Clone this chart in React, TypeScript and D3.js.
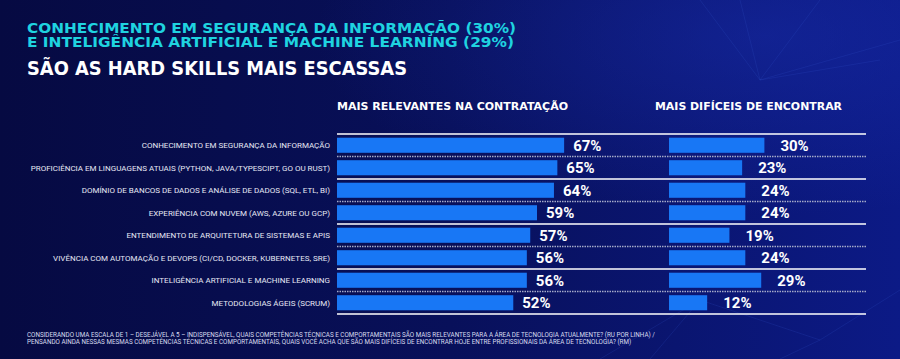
import React from "react";
import * as d3 from "d3";

const categories = [
  "CONHECIMENTO EM SEGURANÇA DA INFORMAÇÃO",
  "PROFICIÊNCIA EM LINGUAGENS ATUAIS (PYTHON, JAVA/TYPESCIPT, GO OU RUST)",
  "DOMÍNIO DE BANCOS DE DADOS E ANÁLISE DE DADOS (SQL, ETL, BI)",
  "EXPERIÊNCIA COM NUVEM (AWS, AZURE OU GCP)",
  "ENTENDIMENTO DE ARQUITETURA DE SISTEMAS E APIS",
  "VIVÊNCIA COM AUTOMAÇÃO E DEVOPS (CI/CD, DOCKER, KUBERNETES, SRE)",
  "INTELIGÊNCIA ARTIFICIAL E MACHINE LEARNING",
  "METODOLOGIAS ÁGEIS (SCRUM)",
];
const relevantes = [67, 65, 64, 59, 57, 56, 56, 52];
const dificeis = [30, 23, 24, 24, 19, 24, 29, 12];

const titleLines = [
  "CONHECIMENTO EM SEGURANÇA DA INFORMAÇÃO (30%)",
  "E INTELIGÊNCIA ARTIFICIAL E MACHINE LEARNING (29%)",
  "SÃO AS HARD SKILLS MAIS ESCASSAS",
];
const panelTitles = ["MAIS RELEVANTES NA CONTRATAÇÃO", "MAIS DIFÍCEIS DE ENCONTRAR"];
const footerLines = [
  "CONSIDERANDO UMA ESCALA DE 1 – DESEJÁVEL A 5 – INDISPENSÁVEL, QUAIS COMPETÊNCIAS TÉCNICAS E COMPORTAMENTAIS SÃO MAIS RELEVANTES PARA A ÁREA DE TECNOLOGIA ATUALMENTE? (RU POR LINHA) /",
  "PENSANDO AINDA NESSAS MESMAS COMPETÊNCIAS TÉCNICAS E COMPORTAMENTAIS, QUAIS VOCÊ ACHA QUE SÃO MAIS DIFÍCEIS DE ENCONTRAR HOJE ENTRE PROFISSIONAIS DA ÁREA DE TECNOLOGIA? (RM)",
];

const W = 900;
const H = 359;
const FONT = "Roboto, 'Open Sans', sans-serif";
const WIDE = "'DejaVu Sans', Roboto, sans-serif";
const BAR = "#1877f5";

export default function App() {
  const y = d3.scaleBand<string>().domain(categories).range([134, 314]).paddingInner(0.33).paddingOuter(0.165);
  const xL = d3.scaleLinear().domain([0, 100]).range([337, 676]);
  const xR = d3.scaleLinear().domain([0, 100]).range([669, 987]);
  const step = y.step();
  const bounds = d3.range(categories.length + 1).map((i) => 134 + i * step);

  const titleY = [32.5, 47, 75];
  const titleLen = [489, 487, 380];

  return (
    <div style={{ position: "absolute", left: 0, top: 0, width: W, height: H }}>
      <svg width={W} height={H} style={{ display: "block" }}>
        <defs>
          <linearGradient id="bg" x1="0" y1="0" x2="1" y2="0">
            <stop offset="0" stopColor="#060a42" />
            <stop offset="0.5" stopColor="#08105a" />
            <stop offset="1" stopColor="#0c1a86" />
          </linearGradient>
          <radialGradient id="glow" cx="0.85" cy="0.1" r="0.5">
            <stop offset="0" stopColor="#1a2fb0" stopOpacity="0.45" />
            <stop offset="1" stopColor="#1a2fb0" stopOpacity="0" />
          </radialGradient>
        </defs>
        <rect width={W} height={H} fill="url(#bg)" />
        <rect width={W} height={H} fill="url(#glow)" />
        <g stroke="#3a5ad0" strokeOpacity={0.18} strokeWidth={1} fill="none">
          <path d="M700 0 L760 80 L820 0 M760 80 L900 40 M740 0 L760 80 L880 60" />
          <path d="M600 359 L700 300 L820 340 L900 290 M700 300 L650 359 M820 340 L780 359" />
        </g>

        {titleLines.map((t, i) => (
          <text
            key={t}
            x={27}
            y={titleY[i]}
            fill={i < 2 ? "#1fd3e0" : "#ffffff"}
            fontFamily={WIDE}
            fontWeight={700}
            fontSize={i < 2 ? 14.5 : 19}
            textLength={titleLen[i]}
            lengthAdjust="spacingAndGlyphs"
          >
            {t}
          </text>
        ))}

        {panelTitles.map((t, i) => (
          <text
            key={t}
            x={i === 0 ? 337 : 655}
            y={110}
            fill="#ffffff"
            fontFamily={WIDE}
            fontWeight={700}
            fontSize={10.5}
            textLength={i === 0 ? 231 : 187}
            lengthAdjust="spacingAndGlyphs"
          >
            {t}
          </text>
        ))}

        {bounds.map((b, i) => (
          <line
            key={i}
            x1={337}
            x2={866}
            y1={b}
            y2={b}
            stroke={i % 2 === 0 ? "#ffffff" : "#a5aac8"}
            strokeWidth={i % 2 === 0 ? 1.3 : 1.6}
            strokeDasharray={i % 2 === 0 ? undefined : "1.5,1"}
          />
        ))}

        {categories.map((c, i) => {
          const yc = (y(c) as number) + y.bandwidth() / 2;
          return (
            <g key={c}>
              <text
                x={330}
                y={yc}
                dy="0.35em"
                textAnchor="end"
                fill="#e6e8f4"
                fontFamily={FONT}
                fontSize={8}
              >
                {c}
              </text>
              <rect x={xL(0)} y={y(c)} width={xL(relevantes[i]) - xL(0)} height={y.bandwidth()} fill={BAR} />
              <text
                x={xL(relevantes[i]) + 9}
                y={yc}
                dy="0.36em"
                fill="#ffffff"
                fontFamily={FONT}
                fontWeight={700}
                fontSize={15}
              >
                {relevantes[i]}%
              </text>
              <rect x={xR(0)} y={y(c)} width={xR(dificeis[i]) - xR(0)} height={y.bandwidth()} fill={BAR} />
              <text
                x={xR(dificeis[i]) + 16}
                y={yc}
                dy="0.36em"
                fill="#ffffff"
                fontFamily={FONT}
                fontWeight={700}
                fontSize={15}
              >
                {dificeis[i]}%
              </text>
            </g>
          );
        })}

        {footerLines.map((t, i) => (
          <text key={i} x={27} y={336.5 + i * 7.5} fill="#d8dcef" fontFamily={FONT} fontSize={6.3}>
            {t}
          </text>
        ))}
      </svg>
    </div>
  );
}
